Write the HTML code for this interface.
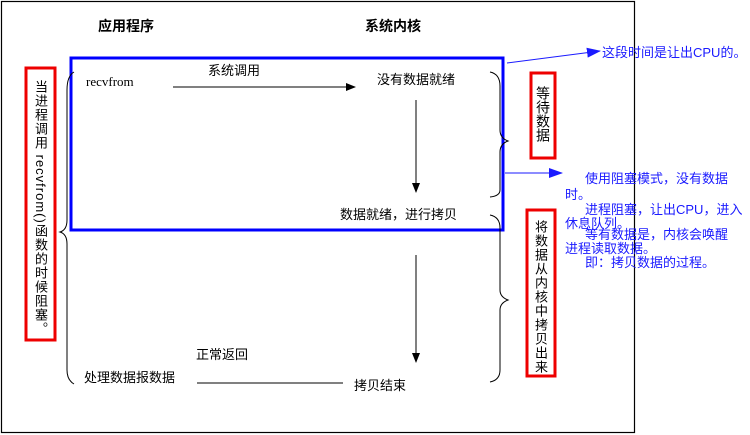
<!DOCTYPE html>
<html><head><meta charset="utf-8"><style>
body{margin:0;width:750px;height:435px;background:#fff;overflow:hidden;position:relative;font-family:"Liberation Sans","Noto Sans CJK SC",sans-serif;}
.t{position:absolute;font-size:13px;color:#000;white-space:nowrap;line-height:1}
.b{color:#1a1aff}
.v{position:absolute;writing-mode:vertical-rl;font-size:14px;line-height:1;color:#000}
</style></head><body>
<svg width="750" height="435" style="position:absolute;left:0;top:0">
<defs>
<marker id="a" markerWidth="10" markerHeight="10" refX="9" refY="4" orient="auto" markerUnits="userSpaceOnUse"><path d="M0,0 L10,4 L0,8z" fill="#000"/></marker>
<marker id="ab" markerWidth="14" markerHeight="10" refX="13" refY="5" orient="auto" markerUnits="userSpaceOnUse"><path d="M0,0 L14,5 L0,10z" fill="#1a1aff"/></marker>
</defs>
<rect x="1.5" y="1.5" width="633" height="431" fill="none" stroke="#000" stroke-width="1.2"/>
<rect x="71" y="58" width="432" height="172" fill="none" stroke="#0000ff" stroke-width="3"/>
<rect x="26" y="68" width="29" height="272" fill="none" stroke="#e00" stroke-width="3"/>
<rect x="531" y="73" width="24" height="85" fill="none" stroke="#e00" stroke-width="3"/>
<rect x="527" y="210" width="28" height="166" fill="none" stroke="#e00" stroke-width="3"/>
<line x1="173" y1="87" x2="355" y2="87" stroke="#000" marker-end="url(#a)"/>
<line x1="416" y1="100" x2="416" y2="192" stroke="#000" marker-end="url(#a)"/>
<line x1="416" y1="255" x2="416" y2="362" stroke="#000" marker-end="url(#a)"/>
<line x1="197" y1="383" x2="343" y2="383" stroke="#000"/>
<path d="M74,72 Q67,76 67,90 L67,220 Q67,230 60,232 Q67,234 67,244 L67,370 Q67,380 74,384" fill="none" stroke="#000"/>
<path d="M490,72 Q500,74 500,86 L500,130 Q500,138 508,141 Q500,144 500,152 L500,190 Q500,196 490,197" fill="none" stroke="#000"/>
<path d="M490,215 Q500,217 500,228 L500,290 Q500,297 508,300 Q500,303 500,310 L500,370 Q500,380 490,382" fill="none" stroke="#000"/>
<line x1="507" y1="63" x2="600" y2="51" stroke="#1a1aff" marker-end="url(#ab)"/>
<line x1="505" y1="173" x2="562" y2="173" stroke="#1a1aff" marker-end="url(#ab)"/>
</svg>
<div class="t" style="left:98px;top:19px;font-weight:bold;font-size:14px">应用程序</div>
<div class="t" style="left:365px;top:19px;font-weight:bold;font-size:14px">系统内核</div>
<div class="t" style="left:208px;top:64px">系统调用</div>
<div class="t" style="left:86px;top:75px;font-family:'Liberation Serif',serif">recvfrom</div>
<div class="t" style="left:377px;top:73px">没有数据就绪</div>
<div class="t" style="left:340px;top:208px">数据就绪，进行拷贝</div>
<div class="t" style="left:196px;top:348px">正常返回</div>
<div class="t" style="left:84px;top:371px">处理数据报数据</div>
<div class="t" style="left:354px;top:379px">拷贝结束</div>
<div class="v" style="left:34px;top:80px;font-size:13px;letter-spacing:1px">当进程调用 recvfrom()函数的时候阻塞。</div>
<div class="v" style="left:536px;top:86px">等待数据</div>
<div class="v" style="left:534px;top:220px;font-size:13px;letter-spacing:1px">将数据从内核中拷贝出来</div>
<div class="t b" style="left:602px;top:46px">这段时间是让出CPU的。</div>
<div class="t b" style="left:585px;top:172px">使用阻塞模式，没有数据</div>
<div class="t b" style="left:565px;top:188px">时。</div>
<div class="t b" style="left:585px;top:203px">进程阻塞，让出CPU，进入</div>
<div class="t b" style="left:565px;top:217px">休息队列。</div>
<div class="t b" style="left:585px;top:228px">等有数据是，内核会唤醒</div>
<div class="t b" style="left:565px;top:242px">进程读取数据。</div>
<div class="t b" style="left:585px;top:256px">即：拷贝数据的过程。</div>
</body></html>
